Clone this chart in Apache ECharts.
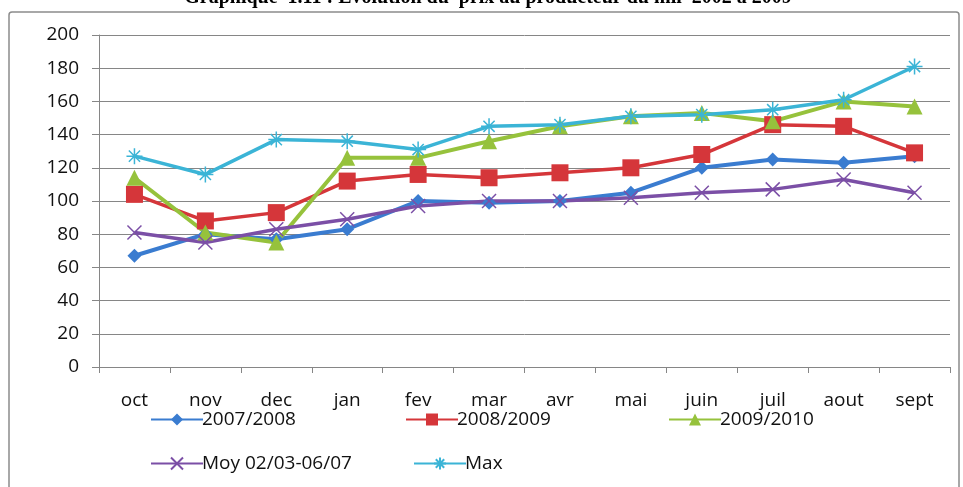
<!DOCTYPE html>
<html>
<head>
<meta charset="utf-8">
<script src="https://cdn.jsdelivr.net/npm/echarts@6.0.0/dist/echarts.min.js"></script>
<style>
  html, body { margin: 0; padding: 0; background: #fff; }
  #chart { width: 963px; height: 487px; }
</style>
</head>
<body>
<div id="chart"></div>
<script>
// months of the season, oct -> sept
var months = ["oct", "nov", "dec", "jan", "fev", "mar", "avr", "mai", "juin", "juil", "aout", "sept"];

var s0708 = [67, 80, 77, 83, 100, 99, 100, 105, 120, 125, 123, 127];
var s0809 = [104, 88, 93, 112, 116, 114, 117, 120, 128, 146, 145, 129];
var s0910 = [114, 81, 75, 126, 126, 136, 145, 151, 153, 148, 160, 157];
var sMoy = [81, 75, 83, 89, 97, 100, 100, 102, 105, 107, 113, 105];
var sMax = [127, 116, 137, 136, 131, 145, 146, 151, 152, 155, 161, 181];

var yTicks = [0, 200, 20]; // min, max, interval

var chart = echarts.init(document.getElementById("chart"), null, { renderer: "canvas" });

var FONT = "'Open Sans', 'Noto Sans', sans-serif";
var xMark = "path://M0,0L10,10M10,0L0,10";
var starMark = "path://M5,0L5,10M0,5L10,5M1.5,1.5L8.5,8.5M8.5,1.5L1.5,8.5";

function lineSeries(name, data, color, symbol, size, width, stroked) {
	var s = {
		name: name,
		type: "line",
		data: data,
		symbol: symbol,
		symbolSize: size,
		showAllSymbol: true,
		lineStyle: { color: color, width: width },
		itemStyle: { color: color },
		emphasis: { disabled: true },
		z: 3
	};
	if (stroked) {
		s.itemStyle = { color: "transparent", borderColor: color, borderWidth: 1.5 };
	}
	return s;
}

function legendAt(name, left, top) {
	return {
		data: [name],
		left: left,
		top: top,
		itemWidth: 52,
		itemHeight: 15,
		itemGap: 0,
		textStyle: { fontFamily: FONT, fontSize: 19, color: "#111", padding: [0, 0, 0, -6] }
	};
}

var option = {
	animation: false,
	backgroundColor: "#fff",
	grid: { left: 99, right: 13, top: 35, bottom: 120 },
	graphic: [
		{
			type: "rect",
			shape: { x: 9, y: 12, width: 950, height: 490, r: 3 },
			style: { fill: "none", stroke: "#8c8c8c", lineWidth: 1.5 },
			silent: true
		},
		{
			type: "text",
			x: 488,
			y: 8,
			style: {
				text: "Graphique  1.11 : Evolution du  prix au producteur du mil  2002 à 2009",
				font: "bold 20px 'Liberation Serif', serif",
				fill: "#000",
				textAlign: "center",
				textVerticalAlign: "bottom"
			},
			silent: true
		}
	],
	legend: [
		legendAt("2007/2008", 145, 405),
		legendAt("2008/2009", 400, 405),
		legendAt("2009/2010", 663, 405),
		legendAt("Moy 02/03-06/07", 145, 449),
		legendAt("Max", 408, 449)
	],
	xAxis: {
		type: "category",
		data: months,
		boundaryGap: true,
		axisLine: { lineStyle: { color: "#868686", width: 1 } },
		axisTick: { show: true, length: 6, interval: 0, lineStyle: { color: "#868686" } },
		axisLabel: { fontFamily: FONT, fontSize: 19, color: "#111", margin: 24, interval: 0 },
		splitLine: { show: false }
	},
	yAxis: {
		type: "value",
		min: yTicks[0],
		max: yTicks[1],
		interval: yTicks[2],
		axisLine: { show: true, lineStyle: { color: "#868686", width: 1 } },
		axisTick: { show: true, length: 7, lineStyle: { color: "#868686" } },
		axisLabel: { fontFamily: FONT, fontSize: 19, color: "#111", margin: 20 },
		splitLine: { lineStyle: { color: "#868686", width: 1 } }
	},
	series: [
		lineSeries("2007/2008", s0708, "#3a7cd0", "diamond", 14, 4),
		lineSeries("2008/2009", s0809, "#d5363a", "rect", 17, 3.5),
		lineSeries("2009/2010", s0910, "#96c23c", "triangle", 16, 4),
		lineSeries("Moy 02/03-06/07", sMoy, "#7b4fa6", xMark, 14, 3.5, true),
		lineSeries("Max", sMax, "#3bb4d6", starMark, 16, 3.5, true)
	]
};

chart.setOption(option);
</script>
</body>
</html>
